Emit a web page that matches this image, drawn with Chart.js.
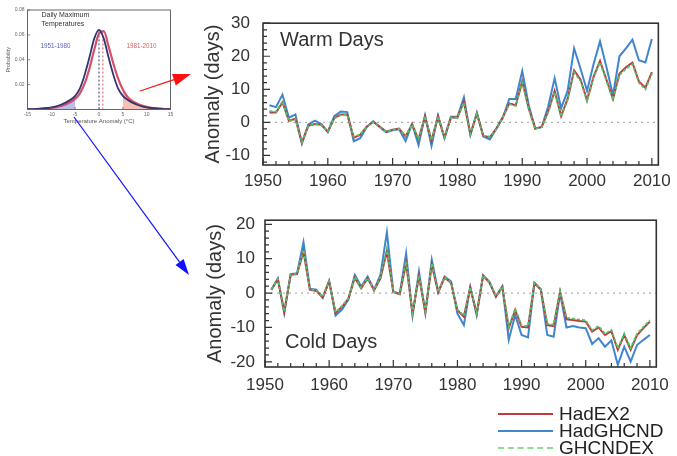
<!DOCTYPE html>
<html>
<head>
<meta charset="utf-8">
<script src="https://cdn.jsdelivr.net/npm/chart.js@4.4.1/dist/chart.umd.min.js"></script>
<style>
  html, body { margin: 0; padding: 0; background: #fff; }
  body { width: 677px; height: 456px; position: relative; overflow: hidden; font-family: "Liberation Sans", Arial, sans-serif; }
  canvas.abs { position: absolute; }
  #overlay { pointer-events: none; }
  .legend { position: absolute; left: 498px; top: 405px; font-size: 19px; color: #222; }
  .legend .row { position: relative; height: 17px; line-height: 17px; width: 170px; }
  .legend .line { position: absolute; left: 0; top: 8px; width: 55px; height: 0; border-top: 2px solid; }
  .legend .txt { position: absolute; left: 61px; top: 0; }
</style>
</head>
<body>
<canvas id="inset" class="abs" width="185" height="130" style="left:0;top:0"></canvas>
<canvas id="warm" class="abs" width="487" height="200" style="left:190px;top:0"></canvas>
<canvas id="cold" class="abs" width="487" height="200" style="left:190px;top:200px"></canvas>
<canvas id="overlay" class="abs" width="677" height="456" style="left:0;top:0"></canvas>
<div class="legend">
  <div class="row"><span class="line" style="border-color:#c0393b"></span><span class="txt">HadEX2</span></div>
  <div class="row"><span class="line" style="border-color:#3f86cf"></span><span class="txt">HadGHCND</span></div>
  <div class="row"><span class="line" style="border-top:2px dashed #8fdc8f"></span><span class="txt">GHCNDEX</span></div>
</div>
<script>
// anomaly series, days per year relative to 1961-1990
const years = [1951,1952,1953,1954,1955,1956,1957,1958,1959,1960,
  1961,1962,1963,1964,1965,1966,1967,1968,1969,1970,
  1971,1972,1973,1974,1975,1976,1977,1978,1979,1980,
  1981,1982,1983,1984,1985,1986,1987,1988,1989,1990,
  1991,1992,1993,1994,1995,1996,1997,1998,1999,2000,
  2001,2002,2003,2004,2005,2006,2007,2008,2009,2010];

const warmHadEX2 = [3.0,3.0,6.0,0.5,1.1,-6.2,-1.0,-0.5,-0.7,-2.9,
  1.3,2.4,2.4,-4.6,-3.8,-1.3,0.2,-1.3,-2.8,-2.2,
  -1.9,-4.3,-0.6,-5.2,1.8,-5.6,1.8,-4.6,1.5,1.5,
  6.2,-3.6,2.7,-4.1,-4.5,-1.9,1.6,5.7,5.2,12.4,
  4.3,-1.9,-1.4,3.3,9.5,1.9,7.1,15.7,12.9,6.7,
  13.8,18.6,12.9,7.1,14.8,16.7,18.1,12.4,10.5,15.2];
const warmHadGHCND = [5.2,4.6,8.4,1.4,2.4,-6.4,-0.6,0.5,-0.5,-2.9,
  1.9,3.3,3.1,-5.7,-4.8,-1.4,0.3,-1.4,-3.0,-2.4,
  -2.1,-5.7,-0.5,-6.9,2.1,-7.1,2.1,-4.8,1.7,1.7,
  7.6,-3.8,2.9,-4.3,-5.2,-1.9,1.4,7.1,7.1,15.5,
  5.2,-1.9,-1.4,4.8,13.3,4.3,9.5,22.4,16.2,9.5,
  17.6,24.5,16.7,8.2,20.0,22.4,25.0,18.8,18.1,25.2];
const warmGHCNDEX = [3.4,3.2,6.3,0.3,1.0,-6.0,-1.1,-0.6,-0.8,-2.8,
  1.2,2.2,2.3,-4.4,-3.6,-1.4,0.1,-1.4,-2.9,-2.3,
  -2.0,-4.2,-0.7,-5.0,1.9,-5.4,1.9,-4.5,1.4,1.4,
  6.0,-3.5,2.6,-4.0,-4.4,-2.0,1.5,5.5,5.0,12.0,
  4.0,-2.0,-1.5,3.0,9.2,1.7,6.8,15.2,12.5,6.4,
  13.4,18.2,12.5,6.8,14.3,16.2,17.6,12.0,10.0,14.7];

const coldHadEX2 = [1.0,4.0,-5.5,5.3,5.5,12.1,1.0,0.6,-1.2,3.4,
  -5.8,-4.0,-1.6,4.5,1.4,4.3,0.8,4.3,12.1,0.3,
  -0.3,8.7,-6.0,4.8,-5.5,8.2,0.2,4.5,3.0,-5.0,
  -6.9,1.6,-6.0,5.0,3.0,-1.0,1.8,-10.2,-4.9,-9.8,
  -10.0,2.8,1.0,-9.3,-9.6,0.4,-7.6,-7.8,-8.1,-8.3,
  -11.2,-10.0,-12.2,-11.1,-16.5,-12.2,-16.5,-12.2,-10.2,-8.3];
const coldHadGHCND = [1.0,4.3,-5.8,5.5,5.8,14.8,1.3,1.0,-1.4,3.6,
  -6.5,-4.8,-1.9,5.3,1.9,4.8,1.0,5.3,17.7,0.5,
  -0.3,11.6,-6.5,6.3,-5.8,9.7,0.3,4.8,3.4,-6.0,
  -9.3,1.8,-6.4,5.2,3.3,-1.1,2.0,-13.6,-6.4,-12.2,
  -12.9,3.0,1.1,-12.2,-12.7,-0.1,-10.0,-9.6,-10.0,-10.2,
  -14.8,-13.1,-15.6,-13.8,-20.9,-15.6,-19.9,-15.1,-13.6,-12.2];
const coldGHCNDEX = [1.2,4.1,-5.3,5.4,5.6,12.6,1.1,0.7,-1.1,3.5,
  -5.6,-3.8,-1.5,4.7,1.5,4.4,0.9,4.6,13.0,0.4,
  -0.2,9.2,-5.8,5.1,-5.3,8.6,0.3,4.6,3.1,-4.8,
  -6.6,1.7,-5.8,5.1,3.1,-0.9,1.9,-9.8,-4.6,-9.4,
  -9.6,2.9,1.1,-8.9,-9.2,0.6,-7.2,-7.4,-7.7,-7.9,
  -10.8,-9.6,-11.8,-10.7,-16.0,-11.8,-16.0,-11.8,-9.8,-7.9];

const yearTicks = [1950, 1960, 1970, 1980, 1990, 2000, 2010];
const warmTicks = [-10, 0, 10, 20, 30];
const coldTicks = [-20, -10, 0, 10, 20];

// inset: probability of daily maximum temperature anomaly
const tempGrid = [-15,-14,-13,-12,-11,-10,-9,-8,-7,-6,-5,-4,-3,-2,-1,0,
  1,2,3,4,5,6,7,8,9,10,11,12,13,14,15];
const prob1951 = [0.0002,0.0003,0.0005,0.0008,0.0012,0.0018,0.0026,0.0038,0.0055,0.0078,
  0.011,0.017,0.028,0.042,0.057,0.064,0.057,0.042,0.028,0.017,
  0.011,0.0078,0.0055,0.0038,0.0026,0.0018,0.0012,0.0008,0.0005,0.0003,0.0002];
const prob1981 = [0.0001,0.0002,0.0003,0.0005,0.0008,0.0012,0.0018,0.0028,0.004,0.006,
  0.0085,0.013,0.021,0.033,0.048,0.061,0.063,0.051,0.037,0.025,
  0.016,0.01,0.0068,0.0047,0.0031,0.0021,0.0014,0.001,0.0007,0.0004,0.0003];
const mean1951 = 0;
const mean1981 = 0.8;
const tempTicks = [-15, -10, -5, 0, 5, 10, 15];
const probTicks = [0, 0.02, 0.04, 0.06, 0.08];

const FONT = '"Liberation Sans", Arial, sans-serif';
const RED = '#c0393b', BLUE = '#3f86cf', GREEN = '#4fc46f';

// box round the plot, inward ticks, dotted zero line and in-plot text
const framePlugin = {
  id: 'frame',
  beforeDatasetsDraw(chart, args, o) {
    if (!o.zeroLine) return;
    const {ctx, chartArea: a, scales: {y}} = chart;
    const y0 = y.getPixelForValue(0);
    ctx.save();
    ctx.strokeStyle = '#b0b0b0';
    ctx.lineWidth = 1.3;
    ctx.setLineDash([2, 4]);
    ctx.beginPath();
    ctx.moveTo(a.left, y0);
    ctx.lineTo(a.right, y0);
    ctx.stroke();
    ctx.restore();
  },
  afterDraw(chart, args, o) {
    const {ctx, chartArea: a, scales: {x, y}} = chart;
    const isMajor = (v, step) => Math.abs(v / step - Math.round(v / step)) < 1e-6;
    ctx.save();
    ctx.strokeStyle = o.color;
    ctx.lineWidth = o.tickWidth;
    ctx.beginPath();
    for (let v = x.min; v <= x.max + 1e-9; v += o.xMinor) {
      const px = x.getPixelForValue(v);
      const len = isMajor(v, o.xMajor) ? o.major : o.minor;
      ctx.moveTo(px, a.bottom);
      ctx.lineTo(px, a.bottom - len);
    }
    for (let v = Math.ceil(y.min / o.yMinor) * o.yMinor; v <= y.max + 1e-9; v += o.yMinor) {
      const py = y.getPixelForValue(v);
      const len = isMajor(v, o.yMajor) ? o.major : o.minor;
      ctx.moveTo(a.left, py);
      ctx.lineTo(a.left + len, py);
    }
    ctx.stroke();
    ctx.lineWidth = o.width;
    ctx.strokeRect(a.left, a.top, a.right - a.left, a.bottom - a.top);
    (o.texts || []).forEach(t => {
      ctx.font = t.font;
      ctx.fillStyle = t.color;
      ctx.textBaseline = 'middle';
      ctx.fillText(t.text, a.left + t.dx, a.top + t.dy);
    });
    ctx.restore();
  }
};

function series(label, values, color, order, dashed) {
  return {
    label: label,
    data: years.map((yr, i) => ({x: yr, y: values[i]})),
    borderColor: color,
    borderWidth: dashed ? 1.8 : 2,
    borderDash: dashed ? [3, 2] : [],
    pointRadius: 0,
    tension: 0,
    order: order
  };
}

function anomalyChart(id, sets, yMin, yMax, yTicks, box, label) {
  return new Chart(document.getElementById(id), {
    type: 'line',
    data: {datasets: sets},
    plugins: [framePlugin],
    options: {
      responsive: false,
      animation: false,
      layout: {padding: {left: 0, top: box.top, right: box.right, bottom: 0}},
      plugins: {
        legend: {display: false},
        tooltip: {enabled: false},
        frame: {
          color: '#333', width: 1.6, tickWidth: 1.2, major: 7, minor: 4,
          xMinor: 2, xMajor: 10, yMinor: 2, yMajor: 10, zeroLine: true,
          texts: [{text: label.text, dx: label.dx, dy: label.dy, font: '20px ' + FONT, color: '#333'}]
        }
      },
      scales: {
        x: {
          type: 'linear', min: 1950, max: 2011,
          afterBuildTicks: s => { s.ticks = yearTicks.map(v => ({value: v})); },
          afterFit: s => { s.height = box.xh; },
          grid: {display: false, drawTicks: false},
          border: {display: false},
          ticks: {padding: box.xpad, maxRotation: 0, autoSkip: false, color: '#333',
                  font: {family: FONT, size: 17}, callback: v => String(v)}
        },
        y: {
          min: yMin, max: yMax,
          afterBuildTicks: s => { s.ticks = yTicks.map(v => ({value: v})); },
          afterFit: s => { s.width = box.yw; },
          grid: {display: false, drawTicks: false},
          border: {display: false},
          ticks: {padding: box.ypad, color: '#333', font: {family: FONT, size: 17}},
          title: {display: true, text: 'Anomaly (days)', color: '#333', padding: {top: box.tpad, bottom: 0}, font: {family: FONT, size: 20}}
        }
      }
    }
  });
}

anomalyChart('warm', [
  series('HadEX2', warmHadEX2, RED, 1, false),
  series('HadGHCND', warmHadGHCND, BLUE, 2, false),
  series('GHCNDEX', warmGHCNDEX, GREEN, 0, true)
], -12.9, 30, warmTicks, {top: 15, right: 14, xh: 35, yw: 73, xpad: 6, ypad: 13, tpad: 11},
  {text: 'Warm Days', dx: 17, dy: 17});

anomalyChart('cold', [
  series('HadEX2', coldHadEX2, RED, 1, false),
  series('HadGHCND', coldHadGHCND, BLUE, 2, false),
  series('GHCNDEX', coldGHCNDEX, GREEN, 0, true)
], -21.5, 21.2, coldTicks, {top: 20, right: 13, xh: 33, yw: 75, xpad: 8, ypad: 10, tpad: 13},
  {text: 'Cold Days', dx: 20, dy: 122});

// inset distribution
const curve = probs => tempGrid.map((t, i) => ({x: t, y: probs[i]}));
const peak1951 = Math.max(...prob1951);
const peak1981 = Math.max(...prob1981);
const inset = {
  type: 'line',
  data: {
    datasets: [
      {data: curve(prob1951), borderColor: '#34346e', borderWidth: 1.8, order: 1},
      {data: curve(prob1981), borderColor: '#d4506a', borderWidth: 2.2, order: 2},
      {data: curve(prob1951).filter(p => p.x <= -5), borderWidth: 0, fill: 'origin',
       backgroundColor: 'rgba(128,138,215,0.55)', order: 4},
      {data: curve(prob1981).filter(p => p.x >= 5), borderWidth: 0, fill: 'origin',
       backgroundColor: 'rgba(240,140,120,0.55)', order: 5},
      {data: [{x: mean1951, y: 0}, {x: mean1951, y: peak1951}], borderColor: '#34346e',
       borderWidth: 1, borderDash: [2, 2], order: 3},
      {data: [{x: mean1981, y: 0}, {x: mean1981, y: peak1981}], borderColor: '#d4506a',
       borderWidth: 1, borderDash: [2, 2], order: 3}
    ]
  },
  plugins: [framePlugin],
  options: {
    responsive: false,
    animation: false,
    elements: {point: {radius: 0}, line: {cubicInterpolationMode: 'monotone'}},
    layout: {padding: {left: 0, top: 10, right: 14.5, bottom: 0}},
    plugins: {
      legend: {display: false},
      tooltip: {enabled: false},
      frame: {
        color: '#666', width: 1, tickWidth: 0.8, major: 2.5, minor: 2.5,
        xMinor: 5, xMajor: 5, yMinor: 0.02, yMajor: 0.02, zeroLine: false,
        texts: [
          {text: 'Daily Maximum', dx: 14, dy: 5, font: '7px ' + FONT, color: '#333'},
          {text: 'Temperatures', dx: 14, dy: 14, font: '7px ' + FONT, color: '#333'},
          {text: '1951-1980', dx: 13, dy: 36, font: '6.3px ' + FONT, color: '#5a64b8'},
          {text: '1981-2010', dx: 99, dy: 36, font: '6.3px ' + FONT, color: '#d86060'}
        ]
      }
    },
    scales: {
      x: {
        type: 'linear', min: -15, max: 15,
        afterBuildTicks: s => { s.ticks = tempTicks.map(v => ({value: v})); },
        afterFit: s => { s.height = 20.5; },
        grid: {display: false, drawTicks: false},
        border: {display: false},
        ticks: {padding: 2.5, maxRotation: 0, autoSkip: false, color: '#666', font: {family: FONT, size: 5}},
        title: {display: true, text: 'Temperature Anomaly (°C)', color: '#555', padding: {top: 0, bottom: 4.9}, font: {family: FONT, size: 6}}
      },
      y: {
        min: 0, max: 0.08,
        afterBuildTicks: s => { s.ticks = probTicks.map(v => ({value: v})); },
        afterFit: s => { s.width = 27.5; },
        grid: {display: false, drawTicks: false},
        border: {display: false},
        ticks: {padding: 3, color: '#666', font: {family: FONT, size: 5},
                callback: v => v === 0 ? '' : v.toFixed(2)},
        title: {display: true, text: 'Probability', color: '#555', padding: {top: 4.7, bottom: 0}, font: {family: FONT, size: 5.5}}
      }
    }
  }
};
new Chart(document.getElementById('inset'), inset);

// arrows from the inset to the two panels
function arrow(ctx, x1, y1, x2, y2, color, head, half) {
  const ang = Math.atan2(y2 - y1, x2 - x1);
  const bx = x2 - head * Math.cos(ang), by = y2 - head * Math.sin(ang);
  ctx.strokeStyle = color;
  ctx.fillStyle = color;
  ctx.lineWidth = 1.2;
  ctx.beginPath();
  ctx.moveTo(x1, y1);
  ctx.lineTo(bx, by);
  ctx.stroke();
  ctx.beginPath();
  ctx.moveTo(x2, y2);
  ctx.lineTo(bx + half * Math.sin(ang), by - half * Math.cos(ang));
  ctx.lineTo(bx - half * Math.sin(ang), by + half * Math.cos(ang));
  ctx.closePath();
  ctx.fill();
}
const octx = document.getElementById('overlay').getContext('2d');
arrow(octx, 140, 91, 191, 74, '#ff1010', 18, 6);
arrow(octx, 74, 117, 189, 275, '#1010ff', 16, 5);
</script>
</body>
</html>
